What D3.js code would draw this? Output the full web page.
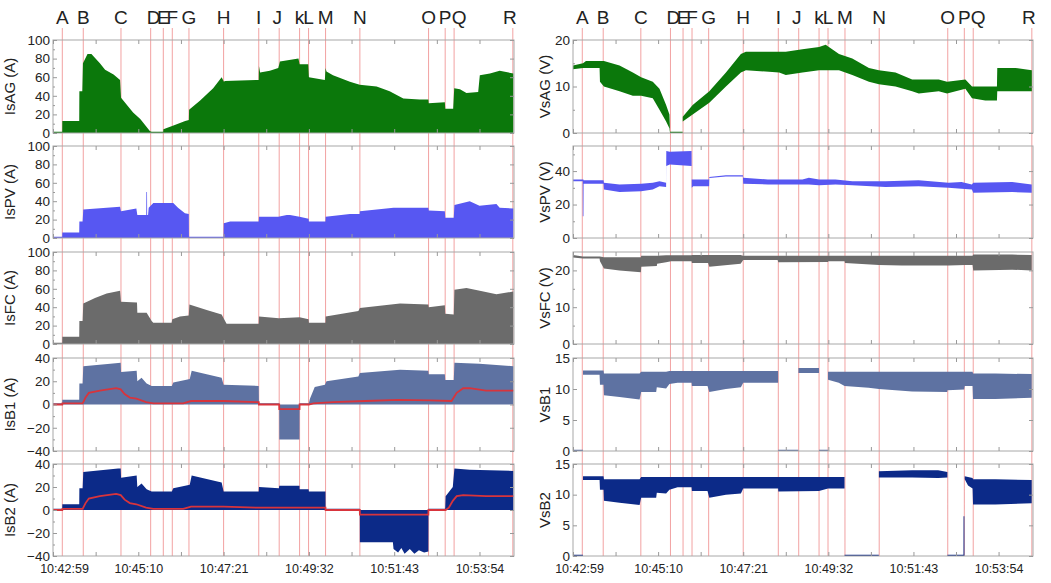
<!DOCTYPE html>
<html>
<head>
<meta charset="utf-8">
<script src="https://d3js.org/d3.v7.min.js"></script>
<style>
body{margin:0;background:#fff;}
text{font-family:"Liberation Sans",Arial,sans-serif;fill:#222;}
</style>
</head>
<body>
<div id="chart"></div>
<script>
// seconds after 10:42:59
var eventNames = ["A","B","C","D","E","F","G","H","I","J","k","L","M","N","O","P","Q","R"];
var eventTimes = [14.3,46.5,104.4,150,169.4,183.2,208.8,262,316,347.4,378.7,392.5,418.6,471.3,576.8,602.3,616,706.2];
var timeTicks = [0,65.5,131,196.5,262,327.5,393,458.5,524,589.5,655];

// [t, value]
var isAG = [[0,0],[14.2,0],[14.3,13],[40.3,13],[40.5,45],[45,45],[46,75],[53,85],[59,85],[72,75],[80,68],[93,63],[103,57],[104.5,38],[123,22],[134,15],[149,2],[151.5,0],[169.3,0],[169.5,4],[185,8],[203,13],[208.7,14],[209,25],[226,35],[246,48],[259,60],[262.5,55],[264,56],[316,57],[316.3,72],[318,65],[333,67],[346,70],[348.5,77],[377,80],[378.7,74],[392,74],[393,60],[417.5,57],[418.6,70],[420,66],[430,62],[456,55],[471,52],[497,50],[517,45],[538,37],[563,36],[576.5,36],[577,32],[601.8,33],[602.4,26],[614.6,26],[616.2,48],[625,47],[635,43],[653,44],[655.5,62],[671,64],[686,67],[707,64]];
var isPV = [[0,0],[14.2,0],[14.3,6],[40.3,6],[40.5,18],[45.5,18],[46.5,31],[103,34],[104.4,29],[128,32],[129.5,25],[143.2,25],[143.4,50],[144.4,50],[144.6,25],[146,25],[147,33],[154,38],[184.7,38],[192,33],[202.7,27],[208.6,26],[208.8,0],[262,0],[262.3,16],[272,18],[316,18],[316.3,23],[346,23],[359,25],[364,25],[378.7,23],[392.5,21],[393,18],[418.5,18],[418.7,23],[456,26],[471,26],[471.3,29],[523,33],[576.5,33],[577,30],[601.8,29],[602.4,22],[615.5,22],[616.5,36],[640,40],[655,35],[681,37],[686,33],[707,32]];
var isFC = [[0,0],[14.2,0],[14.3,8],[40.3,8],[40.5,25],[45.5,25],[46.5,44],[64.5,50],[82.4,55],[103,58],[104.4,46],[129,45],[129.5,34],[143.8,34],[151.5,25],[154,23],[182.2,23],[183.2,27],[195,30],[208.5,31],[209.5,43],[236,37],[259,32],[262,28],[266.6,22],[316,22],[316.3,30],[347,28],[378.7,29],[392.5,27],[393,23],[418.5,23],[418.7,30],[469,36],[471.3,39],[533,44],[576.5,43],[577,40],[601.8,42],[602.4,33],[615.5,32],[616.5,59],[635,61],[655.5,58],[681,54],[707,57]];

// [t, low, high]
var isB1 = [[0,0,0],[14.2,0,0],[14.3,0,4],[40.3,0,4],[40.5,0,18],[45.5,0,18],[46.5,0,33],[88,0,35],[104,0,36],[104.5,0,28],[128.5,0,29],[129.5,0,20],[136,0,23],[143.8,0,18],[151.5,0,16],[182.5,0,16],[184.7,0,19],[203,0,21],[210,0,22],[213,0,29],[236,0,26],[259,0,23],[262,0,17],[316,0,16],[316.3,0,0],[347.4,0,0],[347.5,-30,0],[378.6,-30,0],[378.7,0,0],[393,0,0],[394.6,0,5],[402,0,15],[417.6,0,17],[420,0,20],[469,0,24],[471.3,0,27],[533,0,30],[576.5,0,29],[577,0,26],[601.8,0,26],[602.4,0,21],[615.5,0,21],[616.5,0,36],[655,0,35],[707,0,33]];
var isB1Mean = [[0,0],[14.3,0],[14.5,1],[45.5,1],[50,6],[55,10],[72,12],[97,14],[104,13],[110,9],[118,6],[128,5],[143,2],[154,1],[200,1],[212,3],[262,3],[312,2],[316,2],[316.3,0],[347.4,0],[347.5,-4],[378.6,-4],[378.7,0],[393,0],[400,1],[430,2],[480,3],[530,4],[580,3.5],[612,3],[620,10],[630,14],[640,14],[665,12],[707,12]];
var isB2 = [[0,0,0],[14.2,0,0],[14.3,0,5],[40.3,0,5],[40.5,0,19],[45.5,0,19],[46.5,0,33],[100,0,36],[104,0,36],[104.5,0,28],[128.5,0,30],[129.5,0,20],[136,0,23],[143.8,0,18],[151.5,0,16],[182.5,0,16],[184.7,0,19],[203,0,21],[210,0,22],[213,0,30],[236,0,27],[259,0,24],[262,0,16],[316,0,16],[316.3,0,20],[347,0,19],[347.5,0,21],[378.6,0,21],[378.7,0,18],[392.5,0,18],[393,0,16],[418.5,0,16],[418.6,0,0],[471.2,0,0],[471.3,-28,0],[522,-28,0],[523,-34,0],[530,-37,0],[535,-33,0],[540,-38,0],[548,-34,0],[555,-38,0],[562,-35,0],[570,-37,0],[576.5,-36,0],[576.6,0,0],[602.3,0,0],[603,0,12],[614,0,20],[616.5,0,36],[640,0,35],[707,0,34]];
var isB2Mean = [[0,0],[14.3,0],[14.5,1],[45.5,1],[50,6],[55,10],[72,12],[97,14],[104,13],[110,9],[118,6],[128,5],[143,2],[154,1],[200,1],[212,3],[262,3],[312,2],[418.5,2],[418.6,0],[471.2,0],[471.3,-4],[576.5,-4],[576.6,0],[603,0],[608,2],[614,8],[620,12],[630,13],[665,12],[707,12]];

var vsAG = [[0,13.7,14.5],[15.4,14,15],[20,14,15.5],[40.9,14,15.5],[41.5,11,15.5],[47.6,10,15.5],[71.6,9,14.5],[92.1,8,13],[104.9,8,12],[122.8,7.5,11],[133.1,5,9.5],[143.3,2.5,6],[148.4,1,4],[149.4,0,0],[168.8,0,0],[168.9,2.5,3.5],[184.2,4,6],[209.8,6.5,9],[235.4,10,13],[258.4,13,17],[266.1,13.5,17.5],[317.3,13,17.5],[327.5,12.5,17.5],[353.1,13,18],[378.7,13.5,18.5],[388.9,13.5,19],[409.4,13.5,17],[429.9,12.5,16],[455.5,11,14],[470.8,10.5,13.5],[496.4,10,13],[522,9,11.5],[532.2,8.5,11.5],[562.9,9,11.5],[575.7,8.5,11],[603.9,9.5,11.5],[614.1,7.5,10],[634.6,7,10],[652.5,7,10],[653,9,14],[680.7,9,14],[706.2,9,13.5]];
var vsPV = [[0,34,35],[15,34,35],[15.1,13,35],[16.1,13,35],[16.3,32.5,34.5],[47,32.5,34.5],[47.6,29,33],[71.6,27.5,32],[104.9,28,32.5],[122.8,29,33],[133.1,31,34],[143.3,30.5,33],[143.6,43,52],[149,44,51.5],[182.5,43,52],[182.7,30,35],[185,31,35],[209.5,31,35],[209.8,35.8,36.2],[235.4,36.8,37.2],[261.5,36.8,37.2],[262,32.5,36],[300,32,35],[353,32,35],[363,32,36],[378.7,31.5,35],[404,32,35],[430,31.5,34],[481,30.5,34],[532,31,34.5],[578,30,33],[598,29.5,33.5],[614,29,32],[616,27,33],[676,27.5,33.5],[706,27,32]];
var vsFC = [[0,23.5,24.2],[15.4,23.2,23.8],[40.9,23.2,23.8],[41.5,22.5,23.8],[47.6,20.5,23.6],[71.6,20,23.6],[104.5,19.5,23.6],[105,21,24],[129,21.2,24],[129.5,21.8,24],[143.3,22.2,24.1],[151,22.5,24.1],[182.5,22.5,24.1],[183,22,24.2],[208,22,24.2],[209.8,21,24.2],[258,21.8,24.2],[262,22.8,24],[315,22.8,24],[316,22.2,24],[392.5,22.3,24],[393,22.5,24],[418,22.5,24],[418.6,22,24],[470.8,21.5,24],[506,21.3,24],[578,21.3,24],[604,21.5,24],[615,21.5,24],[616,20,24.3],[676,20.2,24.3],[706,20,24.2]];
var vsB1 = [[0,0,0],[15.3,0,0],[15.4,12.3,13],[40.9,12.3,13],[41.5,10.7,13],[47,10.7,13],[47.6,9,12.5],[71.6,8.7,12.5],[102.5,8.3,12.5],[104.9,9.5,12.8],[128,9.5,12.8],[129,10.3,12.8],[143.3,10.1,12.8],[148.4,10.8,12.9],[161,11,12.9],[182.5,11,12.9],[183,10.5,12.9],[207,10.5,12.9],[209.8,9.5,12.9],[235.4,10,12.9],[258.4,10.3,12.9],[262,11,12.9],[315.7,11,12.9],[315.8,0,0],[346.9,0,0],[347,12.6,13.4],[378.6,12.6,13.4],[378.7,0,0],[392.4,0,0],[392.5,11.5,12.8],[409,11,12.8],[418,10.5,12.8],[455,10.2,12.8],[470.8,10,12.8],[522,9.6,12.8],[576,9.5,12.8],[576.3,9.8,12.8],[602,9.9,12.8],[602.9,10.5,12.8],[615,10.5,12.8],[615.7,8.4,12.5],[650,8.4,12.5],[706,8.6,12.4]];
var vsB2 = [[0,0,0],[15.3,0,0],[15.4,12.4,13],[40.9,12.4,13],[41.5,10.8,13],[47,10.8,13],[47.6,9,12.5],[71.6,8.7,12.5],[102.5,8.3,12.5],[104.9,9.5,12.9],[128,9.5,12.9],[129,10.3,12.9],[143.3,10.2,12.9],[148.4,10.8,12.9],[161,11.2,12.9],[182.5,11.2,12.9],[183,10.6,12.9],[207,10.6,12.9],[209.8,9.5,12.9],[235.4,10,12.9],[258.4,10.2,12.9],[262,11,12.9],[315.7,11,12.9],[316,10.5,12.9],[378.6,10.6,12.9],[392.5,11,12.9],[417.9,11,12.9],[418,0,0],[470.7,0,0],[470.8,12.8,13.8],[522,12.8,14],[562,12.7,14],[576.2,12.8,13.7],[576.3,0,0],[601,0,0],[601.1,0,6.5],[602.4,0,6.5],[602.5,0,0],[602.9,12.5,13],[608,11.5,12.9],[615,11,12.7],[615.7,8.4,12.5],[650,8.4,12.5],[706,8.6,12.4]];

var props = {
  width: 1051,
  height: 583,
  cols: [[53,514],[573,1033]],
  rows: [[40,133],[146,238],[252,344],[358,451],[464,556]],
  titleX: [15,550],
  minPx: 1.2
};

var colors = {ag:"#0b780b", pv:"#5757f2", fc:"#6b6b6b", b1:"#5e72a2", b2:"#0c2a88", ev:"#f2a2a2", mean:"#d8343c", frame:"#a8a8a8"};

var panels = [
  {col:0,row:0,title:"IsAG (A)",domain:[0,100],ticks:d3.range(0,101,20),minor:d3.range(10,100,20),data:isAG,color:colors.ag},
  {col:0,row:1,title:"IsPV (A)",domain:[0,100],ticks:d3.range(0,101,20),minor:d3.range(10,100,20),data:isPV,color:colors.pv},
  {col:0,row:2,title:"IsFC (A)",domain:[0,100],ticks:d3.range(0,101,20),minor:d3.range(10,100,20),data:isFC,color:colors.fc},
  {col:0,row:3,title:"IsB1 (A)",domain:[-40,40],ticks:d3.range(-40,41,20),minor:d3.range(-30,40,20),data:isB1,band:true,mean:isB1Mean,color:colors.b1},
  {col:0,row:4,title:"IsB2 (A)",domain:[-40,40],ticks:d3.range(-40,41,20),minor:d3.range(-30,40,20),data:isB2,band:true,mean:isB2Mean,color:colors.b2},
  {col:1,row:0,title:"VsAG (V)",domain:[0,20],ticks:[0,10,20],minor:[5,15],data:vsAG,band:true,color:colors.ag},
  {col:1,row:1,title:"VsPV (V)",domain:[0,55],ticks:[0,20,40],minor:[10,30,50],data:vsPV,band:true,color:colors.pv},
  {col:1,row:2,title:"VsFC (V)",domain:[0,25],ticks:[0,10,20],minor:[5,15],data:vsFC,band:true,color:colors.fc},
  {col:1,row:3,title:"VsB1",domain:[0,15],ticks:[0,5,10,15],minor:[],data:vsB1,band:true,color:colors.b1},
  {col:1,row:4,title:"VsB2",domain:[0,15],ticks:[0,5,10,15],minor:[],data:vsB2,band:true,color:colors.b2}
];

// small label nudges where letters crowd
var letterNudge = {D:3, J:-2, Q:5, R:-3};

var svg = d3.select("#chart").append("svg").attr("width", props.width).attr("height", props.height);
svg.append("rect").attr("width", props.width).attr("height", props.height).attr("fill", "#fff");

function fmtTime(s){
  var base = 10*3600 + 42*60 + 59 + Math.round(s);
  var h = Math.floor(base/3600), m = Math.floor(base%3600/60), sec = base%60;
  return h + ":" + String(m).padStart(2,"0") + ":" + String(sec).padStart(2,"0");
}

props.cols.forEach(function(c, ci){
  var x = d3.scaleLinear().domain([0,708]).range(c);
  var g = svg.append("g");

  // event markers
  g.selectAll(".ev").data(eventTimes).enter().append("line")
    .attr("x1", function(d){return x(d)}).attr("x2", function(d){return x(d)})
    .attr("y1", 28).attr("y2", props.rows[4][1])
    .style("stroke", colors.ev).style("stroke-width", 1);

  g.selectAll(".evlabel").data(eventNames).enter().append("text")
    .attr("x", function(d,i){return x(eventTimes[i]) + (letterNudge[d] || 0)})
    .attr("y", 24)
    .attr("text-anchor","middle")
    .style("font-size","19px")
    .text(function(d){return d});

  panels.filter(function(p){return p.col == ci}).forEach(function(p){
    var r = props.rows[p.row];
    var y = d3.scaleLinear().domain(p.domain).range([r[1], r[0]]);
    var pg = g.append("g");

    var area = d3.area().x(function(d){return x(d[0])});
    if(p.band){
      area.y0(function(d){return y(d[1])})
          .y1(function(d){return Math.min(y(d[2]), y(d[1]) - props.minPx)});
    } else {
      area.y0(y(0)).y1(function(d){return Math.min(y(d[1]), y(0) - props.minPx)});
    }
    pg.append("path").datum(p.data).attr("d", area)
      .style("fill", p.color);

    if(p.mean){
      var line = d3.line().x(function(d){return x(d[0])}).y(function(d){return y(d[1])});
      pg.append("path").datum(p.mean).attr("d", line)
        .style("fill","none").style("stroke", colors.mean).style("stroke-width", 1.8);
    }

    pg.append("rect").attr("x", c[0]).attr("y", r[0]).attr("width", c[1]-c[0]).attr("height", r[1]-r[0])
      .style("fill","none").style("stroke", colors.frame).style("stroke-width", 1);

    var yAxis = pg.append("g").attr("transform","translate(" + c[0] + ",0)")
      .call(d3.axisLeft(y).tickValues(p.ticks).tickSize(-4).tickPadding(3));
    yAxis.selectAll("text").style("font-size","13.5px").style("fill","#222").style("font-family","'Liberation Sans',Arial,sans-serif");
    pg.append("g").attr("transform","translate(" + c[0] + ",0)")
      .call(d3.axisLeft(y).tickValues(p.minor).tickSize(-2).tickFormat(""));
    pg.append("g").attr("transform","translate(" + c[1] + ",0)")
      .call(d3.axisRight(y).tickValues(p.ticks).tickSize(-4).tickFormat(""));
    pg.append("g").attr("transform","translate(0," + r[0] + ")")
      .call(d3.axisTop(x).tickValues(timeTicks).tickSize(-4).tickFormat(""));
    var xb = pg.append("g").attr("transform","translate(0," + r[1] + ")")
      .call(d3.axisBottom(x).tickValues(timeTicks).tickSize(-4).tickPadding(8)
        .tickFormat(function(d,i){return (p.row == 4 && i % 2 == 0) ? fmtTime(d) : ""}));
    xb.selectAll("text").style("font-size","12.5px").style("fill","#222").style("font-family","'Liberation Sans',Arial,sans-serif")
      .attr("dx", function(d){return d == 0 ? (ci == 0 ? 11 : 6) : 0});

    pg.selectAll(".domain").remove();
    pg.selectAll(".tick line").style("stroke", "#999");

    pg.append("text")
      .attr("transform","translate(" + props.titleX[ci] + "," + (r[0]+r[1])/2 + ") rotate(-90)")
      .attr("text-anchor","middle")
      .style("font-size","15px")
      .text(p.title);
  });
});
</script>
</body>
</html>
